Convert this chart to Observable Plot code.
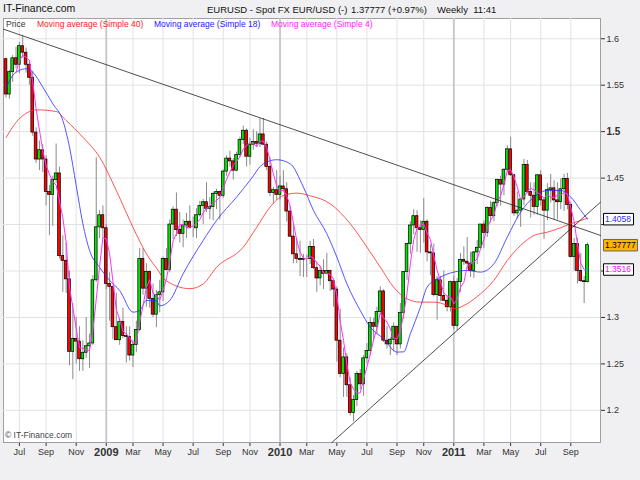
<!DOCTYPE html>
<html><head><meta charset="utf-8">
<script src="https://cdn.jsdelivr.net/npm/d3@7"></script>
<script src="https://cdn.jsdelivr.net/npm/@observablehq/plot@0.6"></script>
<style>
body{margin:0;background:#f0f0f2;}
#wrap{position:relative;width:640px;height:480px;background:#f0f0f2;font-family:"Liberation Sans",Arial,sans-serif;overflow:hidden}
.h{position:absolute;top:4px;font-size:9.5px;color:#111;white-space:pre;line-height:11px}
#chart{position:absolute;left:0;top:17px}
.lg{position:absolute;top:19px;font-size:8.5px;white-space:pre;line-height:11px}
.cp{position:absolute;left:5px;top:430px;font-size:8.5px;color:#444;white-space:pre;line-height:11px}
</style></head><body>
<div id="wrap">
 <div class="h" style="left:3px;top:3px;font-size:10.5px">IT-Finance.com</div>
 <div class="h" style="left:207px">EURUSD - Spot FX EUR/USD (-)</div>
 <div class="h" style="left:351px">1.37777 (+0.97%)</div>
 <div class="h" style="left:437px">Weekly  11:41</div>
 <div id="chart"></div>
 <div class="lg" style="left:6px;color:#333">Price</div>
 <div class="lg" style="left:37px;color:#ff2020">Moving average (Simple 40)</div>
 <div class="lg" style="left:154px;color:#2020ff">Moving average (Simple 18)</div>
 <div class="lg" style="left:271px;color:#ff20ff">Moving average (Simple 4)</div>
 <div class="cp">© IT-Finance.com</div>
</div>
<script>
// Weekly EUR/USD candles, weeks starting 2008-06-09 through 2011-10-10
const openV = [
1.5780,1.5400,1.5640,1.5790,1.5720,1.5920,1.5850,1.5720,1.5580,1.4990,
1.4700,1.4800,1.4700,1.4350,1.4320,1.4480,1.4550,1.3660,1.3610,1.3410,
1.2630,1.2770,1.2740,1.2550,1.2620,1.2690,1.2720,1.3400,1.3970,1.4100,
1.3960,1.3360,1.3330,1.2895,1.2755,1.2950,1.2800,1.2790,1.2590,1.2705,
1.2865,1.3630,1.3310,1.3490,1.3200,1.3030,1.3240,1.3270,1.3630,1.3510,
1.4000,1.4160,1.3940,1.3900,1.3990,1.4030,1.3960,1.3960,1.4100,1.4200,
1.4240,1.4170,1.4190,1.4330,1.4350,1.4310,1.4570,1.4710,1.4680,1.4580,
1.4750,1.4910,1.5010,1.4730,1.4860,1.4890,1.4870,1.4970,1.4860,1.4620,
1.4340,1.4370,1.4320,1.4410,1.4380,1.4140,1.3870,1.3680,1.3630,1.3620,
1.3630,1.3630,1.3760,1.3530,1.3420,1.3500,1.3470,1.3500,1.3390,1.3300,
1.2750,1.2390,1.2570,1.2270,1.1970,1.2110,1.2390,1.2280,1.2560,1.2640,
1.2940,1.2900,1.3060,1.3280,1.2750,1.2710,1.2760,1.2900,1.2710,1.3050,
1.3490,1.3790,1.3990,1.4090,1.3960,1.3940,1.4030,1.3700,1.3690,1.3240,
1.3400,1.3230,1.3180,1.3110,1.3380,1.2910,1.3380,1.3620,1.3600,1.3580,
1.3500,1.3700,1.3750,1.4000,1.3910,1.4180,1.4090,1.4230,1.4480,1.4430,
1.4590,1.4810,1.4530,1.4120,1.4150,1.4270,1.4640,1.4350,1.4310,1.4190,
1.4530,1.4260,1.4150,1.4370,1.4390,1.4260,1.4240,1.4380,1.4490,1.4210,
1.3650,1.3790,1.3500,1.3390,1.3380];
const highV = [
1.5790,1.5660,1.5820,1.5910,1.5960,1.6038,1.5900,1.5760,1.5650,1.5040,
1.4900,1.4860,1.4740,1.4420,1.4520,1.4867,1.4620,1.3880,1.3800,1.3500,
1.3150,1.3000,1.2900,1.2750,1.3000,1.2820,1.3450,1.4720,1.4150,1.4200,
1.4000,1.3480,1.3330,1.3260,1.2980,1.3100,1.2900,1.2900,1.2750,1.2960,
1.3740,1.3740,1.3580,1.3500,1.3360,1.3290,1.3400,1.3650,1.3740,1.4050,
1.4190,1.4340,1.4130,1.4050,1.4120,1.4200,1.4080,1.4170,1.4250,1.4270,
1.4450,1.4290,1.4350,1.4380,1.4360,1.4590,1.4740,1.4790,1.4710,1.4780,
1.4940,1.5060,1.5030,1.4930,1.5020,1.5000,1.5140,1.5144,1.4890,1.4720,
1.4400,1.4580,1.4520,1.4580,1.4450,1.4190,1.4000,1.3850,1.3820,1.3680,
1.3670,1.3820,1.3840,1.3600,1.3550,1.3620,1.3690,1.3510,1.3400,1.3330,
1.3090,1.2670,1.2610,1.2350,1.2160,1.2420,1.2440,1.2590,1.2720,1.3000,
1.2990,1.3110,1.3330,1.3300,1.2900,1.2780,1.2940,1.2900,1.3150,1.3490,
1.3800,1.4030,1.4160,1.4150,1.4040,1.4280,1.4050,1.3780,1.3790,1.3440,
1.3440,1.3500,1.3230,1.3390,1.3440,1.3420,1.3690,1.3760,1.3860,1.3700,
1.3710,1.3830,1.4000,1.4040,1.4190,1.4250,1.4250,1.4490,1.4520,1.4600,
1.4850,1.4940,1.4540,1.4350,1.4270,1.4700,1.4690,1.4450,1.4450,1.4540,
1.4580,1.4280,1.4440,1.4540,1.4470,1.4450,1.4490,1.4540,1.4550,1.4240,
1.3850,1.3850,1.3690,1.3440,1.3800];
const lowV = [
1.5360,1.5350,1.5530,1.5680,1.5620,1.5790,1.5630,1.5500,1.4950,1.4660,
1.4580,1.4560,1.4200,1.3880,1.3980,1.4440,1.3630,1.3270,1.3260,1.2480,
1.2330,1.2500,1.2420,1.2420,1.2560,1.2450,1.2700,1.3380,1.3850,1.3850,
1.3300,1.2960,1.2760,1.2750,1.2700,1.2770,1.2510,1.2530,1.2460,1.2620,
1.2850,1.3240,1.3110,1.3100,1.3000,1.2890,1.3050,1.3170,1.3500,1.3480,
1.3840,1.3870,1.3800,1.3750,1.3850,1.3960,1.3860,1.3850,1.4080,1.4000,
1.4130,1.4050,1.4040,1.4160,1.4050,1.4280,1.4520,1.4620,1.4480,1.4570,
1.4720,1.4860,1.4620,1.4640,1.4800,1.4830,1.4830,1.4850,1.4580,1.4300,
1.4220,1.4260,1.4260,1.4350,1.4030,1.3860,1.3580,1.3580,1.3440,1.3430,
1.3430,1.3570,1.3520,1.3270,1.3340,1.3300,1.3460,1.3280,1.3110,1.2520,
1.2350,1.2140,1.2140,1.1940,1.1877,1.2040,1.2220,1.2150,1.2500,1.2590,
1.2750,1.2820,1.3020,1.2730,1.2660,1.2590,1.2630,1.2590,1.2660,1.2980,
1.3400,1.3680,1.3890,1.3700,1.3690,1.3800,1.3600,1.3450,1.3220,1.2970,
1.3170,1.3170,1.3060,1.3060,1.2870,1.2860,1.3270,1.3560,1.3520,1.3430,
1.3420,1.3570,1.3740,1.3740,1.3860,1.4020,1.4030,1.4190,1.4200,1.4310,
1.4560,1.4520,1.4090,1.4060,1.3970,1.4200,1.4330,1.4070,1.4100,1.4100,
1.4200,1.3840,1.4040,1.4230,1.4050,1.4050,1.4160,1.4140,1.4160,1.3640,
1.3500,1.3360,1.3380,1.3150,1.3370];
const closeV = [
1.5400,1.5640,1.5790,1.5720,1.5920,1.5850,1.5720,1.5580,1.4990,1.4700,
1.4800,1.4700,1.4350,1.4320,1.4480,1.4550,1.3660,1.3610,1.3410,1.2630,
1.2770,1.2740,1.2550,1.2620,1.2690,1.2720,1.3400,1.3970,1.4100,1.3960,
1.3360,1.3330,1.2895,1.2755,1.2950,1.2800,1.2790,1.2590,1.2705,1.2865,
1.3630,1.3310,1.3490,1.3200,1.3030,1.3240,1.3270,1.3630,1.3510,1.4000,
1.4160,1.3940,1.3900,1.3990,1.4030,1.3960,1.3960,1.4100,1.4200,1.4240,
1.4170,1.4190,1.4330,1.4350,1.4310,1.4570,1.4710,1.4680,1.4580,1.4750,
1.4910,1.5010,1.4730,1.4860,1.4890,1.4870,1.4970,1.4860,1.4620,1.4340,
1.4370,1.4320,1.4410,1.4380,1.4140,1.3870,1.3680,1.3630,1.3620,1.3630,
1.3630,1.3760,1.3530,1.3420,1.3500,1.3470,1.3500,1.3390,1.3300,1.2750,
1.2390,1.2570,1.2270,1.1970,1.2110,1.2390,1.2280,1.2560,1.2640,1.2940,
1.2900,1.3060,1.3280,1.2750,1.2710,1.2760,1.2900,1.2710,1.3050,1.3490,
1.3790,1.3990,1.4090,1.3960,1.3940,1.4030,1.3700,1.3690,1.3240,1.3400,
1.3230,1.3180,1.3110,1.3380,1.2910,1.3380,1.3620,1.3600,1.3580,1.3500,
1.3700,1.3750,1.4000,1.3910,1.4180,1.4090,1.4230,1.4480,1.4430,1.4590,
1.4810,1.4530,1.4120,1.4150,1.4270,1.4640,1.4350,1.4310,1.4190,1.4530,
1.4260,1.4150,1.4370,1.4390,1.4260,1.4240,1.4380,1.4490,1.4210,1.3650,
1.3790,1.3500,1.3390,1.3380,1.37777];

// Moving averages (week index, value)
const ma40Idx = [0,3,8,9,15,18,23,28,33,38,42,46,47,55,59,63,71,75,79,83,87,91,97,103,108,112,116,120,124,128,132,134,138,142,146,150,154,158,162,166,169,172,174];
const ma40Val = [1.4935,1.5100,1.5228,1.5235,1.5217,1.5120,1.4940,1.4726,1.4367,1.3970,1.3686,1.3480,1.3420,1.3310,1.3360,1.3540,1.3757,1.3970,1.4187,1.4313,1.4338,1.4310,1.4224,1.4009,1.3757,1.3541,1.3326,1.3200,1.3165,1.3165,1.3130,1.3094,1.3148,1.3255,1.3400,1.3614,1.3775,1.3883,1.3918,1.3966,1.4009,1.4044,1.4069];
const ma18Idx = [0,2,4,6,8,11,14,17,19,21,23,25,28,31,34,38,40,42,45,46,49,53,59,63,69,73,77,81,85,89,92,96,99,102,106,109,113,117,119,121,124,126,130,134,138,142,146,150,154,158,162,166,169,172,174];
const ma18Val = [1.5470,1.5605,1.5659,1.5677,1.5640,1.5480,1.5300,1.5120,1.4833,1.4420,1.4009,1.3721,1.3541,1.3400,1.3291,1.3057,1.3075,1.3183,1.3180,1.3125,1.3183,1.3470,1.3829,1.4044,1.4296,1.4475,1.4655,1.4698,1.4655,1.4403,1.4152,1.3901,1.3649,1.3363,1.3075,1.2896,1.2770,1.2627,1.2630,1.2825,1.3110,1.3326,1.3434,1.3488,1.3506,1.3488,1.3578,1.3865,1.4134,1.4296,1.4367,1.4367,1.4296,1.4152,1.4058];

// Trend lines (date, value) at the frame edges
const downDates = ["2008-06-03T18:00Z","2011-11-06T06:00Z"];
const downVals = [1.6103, 1.3883];
const upDates = ["2010-04-22T14:00Z","2011-11-06T06:00Z"];
const upVals = [1.1654, 1.4241];

// Axes
const xDomain = ["2008-06-03T18:00Z","2011-11-06T06:00Z"];
const yDomain = [1.1654, 1.6218];
const tickDates = ["2008-07-07","2008-09-01","2008-11-03","2009-01-05","2009-03-02","2009-05-04","2009-07-06","2009-09-07","2009-11-02","2010-01-04","2010-03-01","2010-05-03","2010-07-05","2010-09-06","2010-11-01","2011-01-03","2011-03-07","2011-05-02","2011-07-04","2011-09-05"];
const tickLabels = ["Jul","Sep","Nov","2009","Mar","May","Jul","Sep","Nov","2010","Mar","May","Jul","Sep","Nov","2011","Mar","May","Jul","Sep"];
const yTicks = [1.2,1.25,1.3,1.35,1.4,1.45,1.5,1.55,1.6];
// 1.35 and 1.4 are hidden behind the value tags in the reference
const yTickLabels = ["1.2","1.25","1.3","","","1.45","1.5","1.55","1.6"];

// Last-value labels on the price axis
const tagText = ["1.4058","1.37777","1.3516"];
const tagVal = [1.4058, 1.37777, 1.3516];
const tagColor = ["#2c2cff","#000000","#ff00ff"];
const tagFill = ["#ffffff","#ffb400","#ffffff"];

// ---- build tables
const weeks = d3.utcMonday.range(new Date(Date.UTC(2008,5,9)), new Date(Date.UTC(2011,9,11)));
const candles = weeks.map((d,i) => ({
  date: d,
  x1: d3.utcHour.offset(d, -84),
  x2: d3.utcHour.offset(d, 84),
  open: openV[i], high: highV[i], low: lowV[i], close: closeV[i]
}));
const ma40 = ma40Idx.map((k,i) => ({date: weeks[k], v: ma40Val[i]}));
const ma18 = ma18Idx.map((k,i) => ({date: weeks[k], v: ma18Val[i]}));
const down = downDates.map((d,i) => ({date: new Date(d), v: downVals[i]}));
const up = upDates.map((d,i) => ({date: new Date(d), v: upVals[i]}));
const ticks = tickDates.map(d => new Date(d));
const labelOf = new Map(ticks.map((d,i) => [+d, tickLabels[i]]));
const yearTicks = ticks.filter((d,i) => /^\d{4}$/.test(tickLabels[i]));
const monthTicks = ticks.filter((d,i) => !/^\d{4}$/.test(tickLabels[i]));
const xEnd = new Date(xDomain[1]);
const tags = tagText.map((t,i) => ({t, v: tagVal[i]}));

function box(w, h) {
  return {draw(ctx) {
    ctx.moveTo(-w/2, -h/2); ctx.lineTo(w/2, -h/2); ctx.lineTo(w/2, h/2); ctx.lineTo(-w/2, h/2); ctx.closePath();
  }};
}
const tagW = [30, 34, 30];
const tagMarks = tags.flatMap((d, i) => [
  Plot.dot([d], {x: () => xEnd, y: "v", symbol: box(tagW[i], 11.5), fill: tagFill[i], stroke: i === 1 ? "#666" : "#000", strokeWidth: 1, dx: 3 + tagW[i] / 2}),
  Plot.text([d], {x: () => xEnd, y: "v", text: "t", fill: tagColor[i], dx: 4.5, textAnchor: "start", fontSize: 8.5})
]);

const chart = Plot.plot({
  width: 640, height: 463,
  marginTop: 1, marginLeft: 3, marginRight: 40, marginBottom: 38,
  style: {fontFamily: "Liberation Sans, Arial, sans-serif", fontSize: "9px", background: "transparent", color: "#333", overflow: "visible"},
  x: {type: "utc", domain: xDomain.map(d => new Date(d)), ticks: ticks, tickFormat: d => labelOf.get(+d), tickSize: 4, tickPadding: 2, line: true, label: null},
  y: {domain: yDomain, axis: "right", ticks: yTicks, tickFormat: d => yTickLabels[yTicks.indexOf(d)], tickSize: 4, tickPadding: 2, line: true, label: null},
  marks: [
    Plot.frame({fill: "white", stroke: "#a0a0a0"}),
    Plot.ruleY(yTicks, {stroke: "#e2e2e2"}),
    Plot.ruleX(monthTicks, {stroke: "#e2e2e2"}),
    Plot.ruleX(yearTicks, {stroke: "#c6c6c6", strokeWidth: 1.8}),
    Plot.ruleX(candles, {x: "date", y1: "low", y2: "high", stroke: "#8a8a8a", strokeWidth: 1}),
    Plot.rect(candles, {x1: "x1", x2: "x2", y1: "open", y2: "close",
      fill: d => d.close >= d.open ? "#00e600" : "#ff0000",
      stroke: "#000", strokeWidth: 0.7, insetLeft: 0.3, insetRight: 0.3}),
    Plot.line(ma40, {x: "date", y: "v", stroke: "#ff2a2a", strokeWidth: 0.8, curve: "monotone-x"}),
    Plot.line(ma18, {x: "date", y: "v", stroke: "#2a2aff", strokeWidth: 0.8, curve: "monotone-x"}),
    Plot.lineY(candles, Plot.windowY({k: 4, anchor: "end", strict: true}, {x: "date", y: "close", stroke: "#ff30ff", strokeWidth: 1})),
    Plot.line(down, {x: "date", y: "v", stroke: "#222", strokeWidth: 0.8}),
    Plot.line(up, {x: "date", y: "v", stroke: "#222", strokeWidth: 0.8}),
    ...tagMarks
  ]
});
document.getElementById("chart").appendChild(chart);
chart.querySelectorAll("text").forEach(t => {
  const s = t.textContent;
  if (/^\d{4}$/.test(s)) { t.setAttribute("font-weight", "bold"); t.setAttribute("font-size", "11px"); t.style.fontWeight = "bold"; }
  if (s === "1.5") { t.setAttribute("font-weight", "bold"); t.style.fontWeight = "bold"; t.setAttribute("font-size", "10px"); }
});
</script>
</body></html>
